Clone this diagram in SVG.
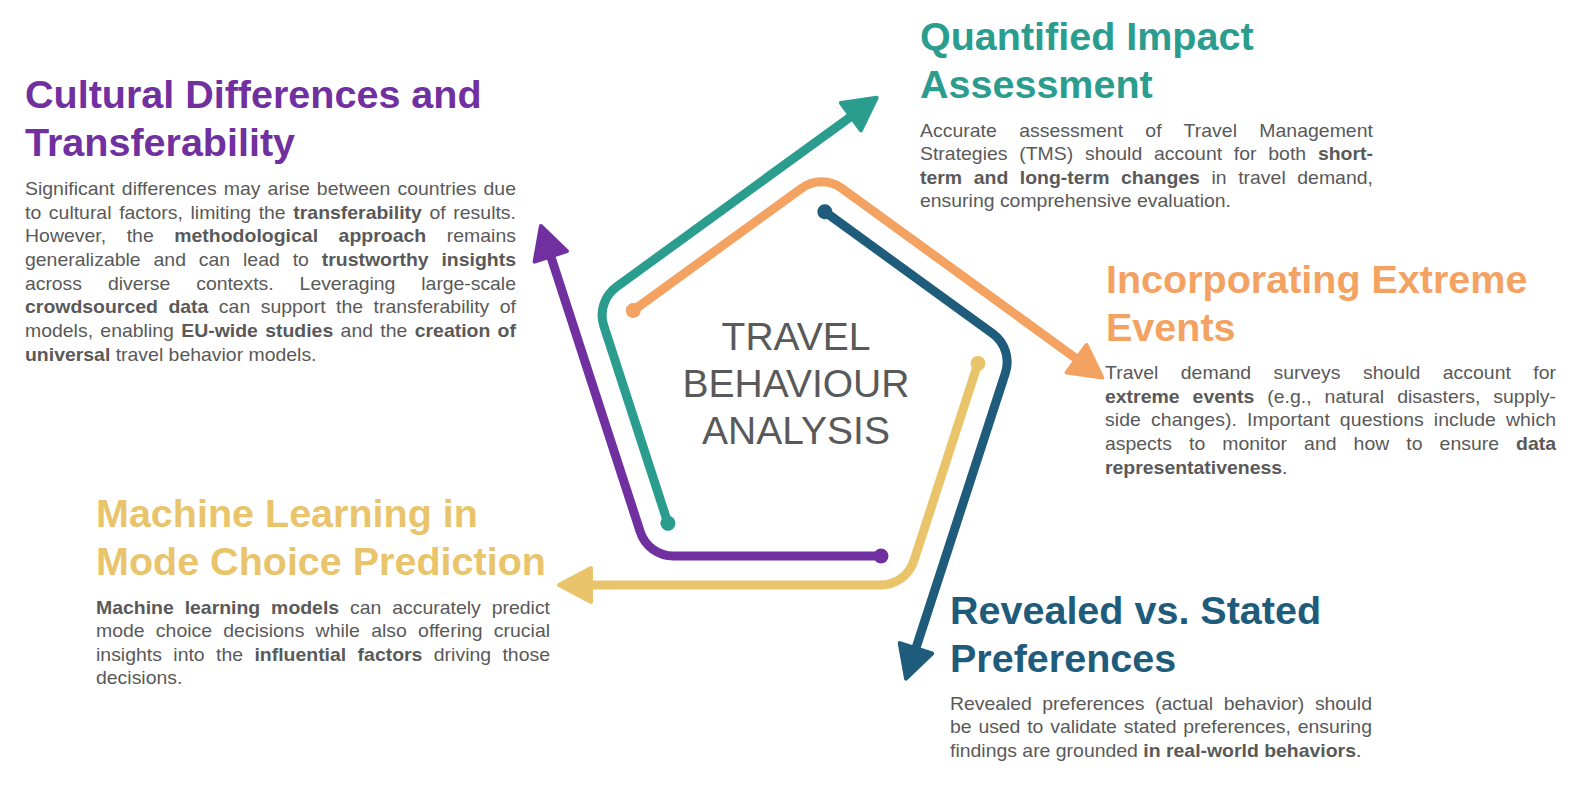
<svg xmlns="http://www.w3.org/2000/svg" width="1575" height="796" viewBox="0 0 1575 796">
<style>
.title{font-family:"Liberation Sans",Arial,sans-serif;font-weight:bold;font-size:39.5px}
.body{font-family:"Liberation Sans",Arial,sans-serif;font-size:18px;fill:#595959}
.b{font-weight:bold}
.center{font-family:"Liberation Sans",Arial,sans-serif;font-size:39px;fill:#595959;text-anchor:middle}
.conn path{fill:none;stroke-width:9;stroke-linecap:round;stroke-linejoin:round}
.conn polygon{stroke-width:4;stroke-linejoin:round}
.c-purple{fill:#7030A0;stroke:#7030A0}
.c-teal{fill:#2A9D8F;stroke:#2A9D8F}
.c-orange{fill:#F4A261;stroke:#F4A261}
.c-blue{fill:#1F5B7A;stroke:#1F5B7A}
.c-yellow{fill:#E9C46A;stroke:#E9C46A}
.t-purple{fill:#7030A0}
.t-teal{fill:#2A9D8F}
.t-orange{fill:#F4A261}
.t-blue{fill:#1F5B7A}
.t-yellow{fill:#E9C46A}
</style>
<rect x="0" y="0" width="1575" height="796" fill="#FFFFFF"/>

<g id="connectors">
  <g id="arrow-purple" class="conn c-purple">
    <path d="M 881 556 L 673.5 556 A 35 35 0 0 1 640.25 531.84 L 548 247.8"/>
    <polygon points="540.9,226 566.9,251.1 534.6,261.7"/>
    <circle cx="881" cy="556" r="7.5" stroke="none"/>
  </g>
  <g id="arrow-teal" class="conn c-teal" transform="rotate(72 797 393)">
    <path d="M 881 556 L 673.5 556 A 35 35 0 0 1 640.25 531.84 L 548 247.8"/>
    <polygon points="540.9,226 566.9,251.1 534.6,261.7"/>
    <circle cx="881" cy="556" r="7.5" stroke="none"/>
  </g>
  <g id="arrow-orange" class="conn c-orange" transform="rotate(144 797 393)">
    <path d="M 881 556 L 673.5 556 A 35 35 0 0 1 640.25 531.84 L 548 247.8"/>
    <polygon points="540.9,226 566.9,251.1 534.6,261.7"/>
    <circle cx="881" cy="556" r="7.5" stroke="none"/>
  </g>
  <g id="arrow-blue" class="conn c-blue" transform="rotate(216 797 393)">
    <path d="M 881 556 L 673.5 556 A 35 35 0 0 1 640.25 531.84 L 548 247.8"/>
    <polygon points="540.9,226 566.9,251.1 534.6,261.7"/>
    <circle cx="881" cy="556" r="7.5" stroke="none"/>
  </g>
  <g id="arrow-yellow" class="conn c-yellow" transform="rotate(288 797 393)">
    <path d="M 881 556 L 673.5 556 A 35 35 0 0 1 640.25 531.84 L 548 247.8"/>
    <polygon points="540.9,226 566.9,251.1 534.6,261.7"/>
    <circle cx="881" cy="556" r="7.5" stroke="none"/>
  </g>
</g>

<g id="node-center">
  <text class="center"><tspan x="796" y="350">TRAVEL</tspan><tspan x="796" y="397">BEHAVIOUR</tspan><tspan x="796" y="444">ANALYSIS</tspan></text>
</g>

<g id="node-cultural">
  <text class="title t-purple"><tspan x="25" y="108">Cultural Differences and</tspan><tspan x="25" y="155.5">Transferability</tspan></text>
  <g class="body" transform="translate(25 0) scale(1.08 1)">
    <text x="0" y="195" textLength="454.6" lengthAdjust="spacing" style="word-spacing:1.6px">Significant differences may arise between countries due</text>
    <text x="0" y="218.7" textLength="454.6" lengthAdjust="spacing" style="word-spacing:2.1px">to cultural factors, limiting the <tspan class="b">transferability</tspan> of results.</text>
    <text x="0" y="242.4" textLength="454.6" lengthAdjust="spacing" style="word-spacing:13.9px">However, the <tspan class="b">methodological approach</tspan> remains</text>
    <text x="0" y="266.1" textLength="454.6" lengthAdjust="spacing" style="word-spacing:6.9px">generalizable and can lead to <tspan class="b">trustworthy insights</tspan></text>
    <text x="0" y="289.8" textLength="454.6" lengthAdjust="spacing" style="word-spacing:19.1px">across diverse contexts. Leveraging large-scale</text>
    <text x="0" y="313.5" textLength="454.6" lengthAdjust="spacing" style="word-spacing:4.7px"><tspan class="b">crowdsourced data</tspan> can support the transferability of</text>
    <text x="0" y="337.2" textLength="454.6" lengthAdjust="spacing" style="word-spacing:1.8px">models, enabling <tspan class="b">EU-wide studies</tspan> and the <tspan class="b">creation of</tspan></text>
    <text x="0" y="360.9"><tspan class="b">universal</tspan> travel behavior models.</text>
  </g>
</g>

<g id="node-quantified">
  <text class="title t-teal"><tspan x="920" y="50">Quantified Impact</tspan><tspan x="920" y="97.5">Assessment</tspan></text>
  <g class="body" transform="translate(920 0) scale(1.08 1)">
    <text x="0" y="137" textLength="419.4" lengthAdjust="spacing" style="word-spacing:15.6px">Accurate assessment of Travel Management</text>
    <text x="0" y="160.5" textLength="419.4" lengthAdjust="spacing" style="word-spacing:5.9px">Strategies (TMS) should account for both <tspan class="b">short-</tspan></text>
    <text x="0" y="184" textLength="419.4" lengthAdjust="spacing" style="word-spacing:5.7px"><tspan class="b">term and long-term changes</tspan> in travel demand,</text>
    <text x="0" y="207.5">ensuring comprehensive evaluation.</text>
  </g>
</g>

<g id="node-extreme">
  <text class="title t-orange"><tspan x="1106" y="293">Incorporating Extreme</tspan><tspan x="1106" y="340.5">Events</tspan></text>
  <g class="body" transform="translate(1105 0) scale(1.08 1)">
    <text x="0" y="379" textLength="417.6" lengthAdjust="spacing" style="word-spacing:15.7px">Travel demand surveys should account for</text>
    <text x="0" y="402.7" textLength="417.6" lengthAdjust="spacing" style="word-spacing:7.1px"><tspan class="b">extreme events</tspan> (e.g., natural disasters, supply-</text>
    <text x="0" y="426.4" textLength="417.6" lengthAdjust="spacing" style="word-spacing:4.1px">side changes). Important questions include which</text>
    <text x="0" y="450.1" textLength="417.6" lengthAdjust="spacing" style="word-spacing:10.8px">aspects to monitor and how to ensure <tspan class="b">data</tspan></text>
    <text x="0" y="473.8"><tspan class="b">representativeness</tspan>.</text>
  </g>
</g>

<g id="node-ml">
  <text class="title t-yellow"><tspan x="96" y="527">Machine Learning in</tspan><tspan x="96" y="574.5">Mode Choice Prediction</tspan></text>
  <g class="body" transform="translate(96 0) scale(1.08 1)">
    <text x="0" y="614" textLength="420.4" lengthAdjust="spacing" style="word-spacing:5.1px"><tspan class="b">Machine learning models</tspan> can accurately predict</text>
    <text x="0" y="637.5" textLength="420.4" lengthAdjust="spacing" style="word-spacing:5.4px">mode choice decisions while also offering crucial</text>
    <text x="0" y="661" textLength="420.4" lengthAdjust="spacing" style="word-spacing:5.5px">insights into the <tspan class="b">influential factors</tspan> driving those</text>
    <text x="0" y="684.5">decisions.</text>
  </g>
</g>

<g id="node-revealed">
  <text class="title t-blue"><tspan x="950" y="624">Revealed vs. Stated</tspan><tspan x="950" y="671.5">Preferences</tspan></text>
  <g class="body" transform="translate(950 0) scale(1.08 1)">
    <text x="0" y="710" textLength="390.7" lengthAdjust="spacing" style="word-spacing:4.9px">Revealed preferences (actual behavior) should</text>
    <text x="0" y="733.5" textLength="390.7" lengthAdjust="spacing" style="word-spacing:1.4px">be used to validate stated preferences, ensuring</text>
    <text x="0" y="757">findings are grounded <tspan class="b">in real-world behaviors</tspan>.</text>
  </g>
</g>
</svg>
